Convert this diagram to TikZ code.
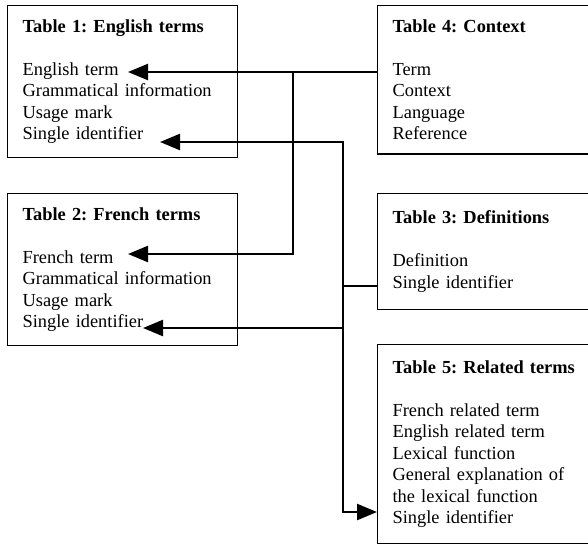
\documentclass[tikz,border=0pt]{standalone}
\usepackage{fontspec}
\setmainfont{Liberation Serif}
\usetikzlibrary{arrows.meta}
\frenchspacing

\begin{document}
\begin{tikzpicture}[
  x=1pt, y=1pt,
  box/.style={draw, line width=1.2pt, anchor=north west, align=left, inner xsep=15pt, inner ysep=14pt, font=\fontsize{18.4}{21.5}\selectfont},
  lbox/.style={box, text width=200pt},
  rbox/.style={box, text width=181pt},
  link/.style={line width=2.4pt},
  arr/.style={link, -{Triangle[length=20pt, width=16pt]}},
  arrs/.style={link, {Triangle[length=20pt, width=16pt]}-{Triangle[length=20pt, width=16pt]}}
]
\useasboundingbox (0,0) rectangle (588,-547);

\node[lbox] (t1) at (7,-5) {\mbox{\textbf{Table 1: English terms}}\\[21.5pt]English term\\Grammatical information\\Usage mark\\Single identifier};
\node[rbox] (t4) at (377,-5) {\mbox{\textbf{Table 4: Context}}\\[21.5pt]Term\\Context\\Language\\Reference};
\node[lbox] (t2) at (7,-193) {\mbox{\textbf{Table 2: French terms}}\\[21.5pt]French term\\Grammatical information\\Usage mark\\Single identifier};
\node[rbox, minimum height=116pt] (t3) at (377,-193) {\mbox{\textbf{Table 3: Definitions}}\\[21.5pt]Definition\\Single identifier};
\node[rbox, minimum height=199pt] (t5) at (377,-344) {\mbox{\textbf{Table 5: Related terms}}\\[21.5pt]French related term\\English related term\\Lexical function\\General explanation of\\the lexical function\\Single identifier};

% term links
\coordinate (enTip) at (128,-72);
\coordinate (frTip) at (128,-254);
\coordinate (termBend) at (293,-72);
\draw[arr] (t4.west |- enTip) -- (enTip);
\draw[arr] (termBend) |- (frTip);

% single identifier links
\coordinate (id1Tip) at (160,-142);
\coordinate (id2Tip) at (143,-328);
\coordinate (defJoin) at (343,-286);
\coordinate (idBot) at (343,-512);
\draw[arrs] (id1Tip) -| (idBot) -- (t5.west |- idBot);
\draw[link] (defJoin) -- (t3.west |- defJoin);
\draw[arr] (idBot |- id2Tip) -- (id2Tip);

\end{tikzpicture}
\end{document}
